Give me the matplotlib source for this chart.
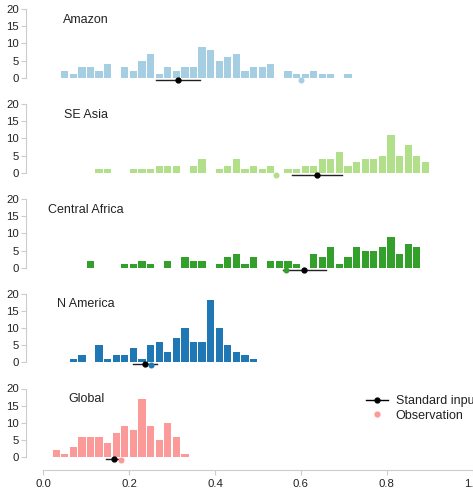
import matplotlib
matplotlib.use("Agg")
import matplotlib.pyplot as plt
from matplotlib.lines import Line2D

plt.rcParams['font.family'] = ['Liberation Sans', 'DejaVu Sans']

regions = ["Amazon", "SE Asia", "Central Africa", "N America", "Global"]
colors = ["#a6cee3", "#b2df8a", "#33a02c", "#1f78b4", "#fb9a99"]

amazon_x = [0.05, 0.07, 0.09, 0.11, 0.13, 0.15, 0.19, 0.21, 0.23, 0.25, 0.27, 0.29, 0.31, 0.33, 0.35,
            0.37, 0.39, 0.41, 0.43, 0.45, 0.47, 0.49, 0.51, 0.53, 0.57, 0.59, 0.61, 0.63, 0.65, 0.67, 0.71]
amazon_n = [2, 1, 3, 3, 2, 4, 3, 2, 5, 7, 1, 3, 2, 3, 3,
            9, 8, 5, 6, 7, 2, 3, 3, 4, 2, 1, 1, 2, 1, 1, 1]

seasia_x = [0.13, 0.15, 0.21, 0.23, 0.25, 0.27, 0.29, 0.31, 0.35, 0.37, 0.41, 0.43, 0.45, 0.47, 0.49,
            0.51, 0.53, 0.57, 0.59, 0.61, 0.63, 0.65, 0.67, 0.69, 0.71, 0.73, 0.75, 0.77, 0.79, 0.81,
            0.83, 0.85, 0.87, 0.89]
seasia_n = [1, 1, 1, 1, 1, 2, 2, 2, 2, 4, 1, 2, 4, 1, 2,
            1, 2, 1, 1, 2, 2, 4, 4, 6, 2, 3, 4, 4, 5, 11,
            5, 8, 5, 3]

cafrica_x = [0.11, 0.19, 0.21, 0.23, 0.25, 0.29, 0.33, 0.35, 0.37, 0.41, 0.43, 0.45, 0.47, 0.49, 0.53,
             0.55, 0.57, 0.59, 0.63, 0.65, 0.67, 0.69, 0.71, 0.73, 0.75, 0.77, 0.79, 0.81, 0.83, 0.85, 0.87]
cafrica_n = [2, 1, 1, 2, 1, 2, 3, 2, 2, 1, 3, 4, 1, 3, 2,
             2, 2, 1, 4, 3, 6, 1, 3, 6, 5, 5, 6, 9, 4, 7, 6]

namerica_x = [0.07, 0.09, 0.13, 0.15, 0.17, 0.19, 0.21, 0.23, 0.25, 0.27, 0.29, 0.31, 0.33, 0.35,
              0.37, 0.39, 0.41, 0.43, 0.45, 0.47, 0.49]
namerica_n = [1, 2, 5, 1, 2, 2, 4, 1, 5, 6, 3, 7, 10, 6, 6, 18, 10, 5, 3, 2, 1]

global_x = [0.03, 0.05, 0.07, 0.09, 0.11, 0.13, 0.15, 0.17, 0.19, 0.21, 0.23, 0.25, 0.27, 0.29, 0.31, 0.33]
global_n = [2, 1, 3, 6, 6, 6, 4, 7, 9, 8, 17, 9, 5, 10, 6, 1]

std_mean = [0.314, 0.637, 0.607, 0.237, 0.165]
std_lo = [0.262, 0.579, 0.558, 0.208, 0.146]
std_hi = [0.366, 0.696, 0.659, 0.264, 0.184]
observation = [0.601, 0.543, 0.566, 0.252, 0.181]

xs = [amazon_x, seasia_x, cafrica_x, namerica_x, global_x]
ns = [amazon_n, seasia_n, cafrica_n, namerica_n, global_n]

W, H = 473, 493
fig = plt.figure(figsize=(W / 100, H / 100), dpi=100)

spine_c = "#cccccc"
px_per_unit = 68.7 / 20
ylo, yhi = -3, 20
ax_h = (yhi - ylo) * px_per_unit
x0_px, x1_px = 43.3, 472.5
tops = [9, 104, 199, 293.5, 388.5]

for i, reg in enumerate(regions):
    top = tops[i]
    ax = fig.add_axes([x0_px / W, 1 - (top + ax_h) / H, (x1_px - x0_px) / W, ax_h / H])
    ax.set_xlim(0, 1.0)
    ax.set_ylim(ylo, yhi)
    ax.bar(xs[i], ns[i], width=0.0168, color=colors[i], linewidth=0, zorder=2)
    ax.plot([std_lo[i], std_hi[i]], [-0.6, -0.6], color="#222222", lw=1.0, zorder=3)
    ax.plot([std_mean[i]], [-0.6], marker="o", color="black", markersize=3.5, zorder=4)
    ax.plot([observation[i]], [-0.7], marker="o", color=colors[i], markersize=3.3,
            linestyle="none", zorder=5)
    ax.text(0.10, 16.8, reg, ha="center", va="center", fontsize=9, color="#222222")
    for s in ["top", "right"]:
        ax.spines[s].set_visible(False)
    ax.spines["left"].set_position(("outward", 17 * 0.72))
    ax.spines["left"].set_bounds(0, 20)
    ax.spines["left"].set_color(spine_c)
    ax.set_yticks([0, 5, 10, 15, 20])
    ax.tick_params(axis="y", colors=spine_c, labelcolor="#222222", labelsize=8.2, length=3.5, width=0.8, pad=2)
    ax.patch.set_alpha(0)
    if i < 4:
        ax.spines["bottom"].set_visible(False)
        ax.set_xticks([])
    else:
        ax.spines["bottom"].set_position(("outward", 2.3 * 0.72))
        ax.spines["bottom"].set_bounds(0, 1.0)
        ax.spines["bottom"].set_color(spine_c)
        ax.set_xticks([0.0, 0.2, 0.4, 0.6, 0.8, 1.0])
        ax.set_xticklabels(["0.0", "0.2", "0.4", "0.6", "0.8", "1.0"])
        ax.tick_params(axis="x", colors=spine_c, labelcolor="#222222", labelsize=8.2, length=3.5, width=0.8, pad=3)
        handles = [
            Line2D([], [], color="black", marker="o", markersize=3.5, lw=1.0),
            Line2D([], [], color=colors[4], marker="o", markersize=3.5, linestyle="none"),
        ]
        fig.legend(handles, ["Standard input", "Observation"], loc="upper left",
                   bbox_to_anchor=(365.7 / W, 1 - 395 / H), bbox_transform=fig.transFigure,
                   frameon=False, fontsize=9, handlelength=1.8, handletextpad=0.6,
                   labelspacing=0.22, borderpad=0, borderaxespad=0, labelcolor="#222222")

fig.savefig("out.png", dpi=100)
